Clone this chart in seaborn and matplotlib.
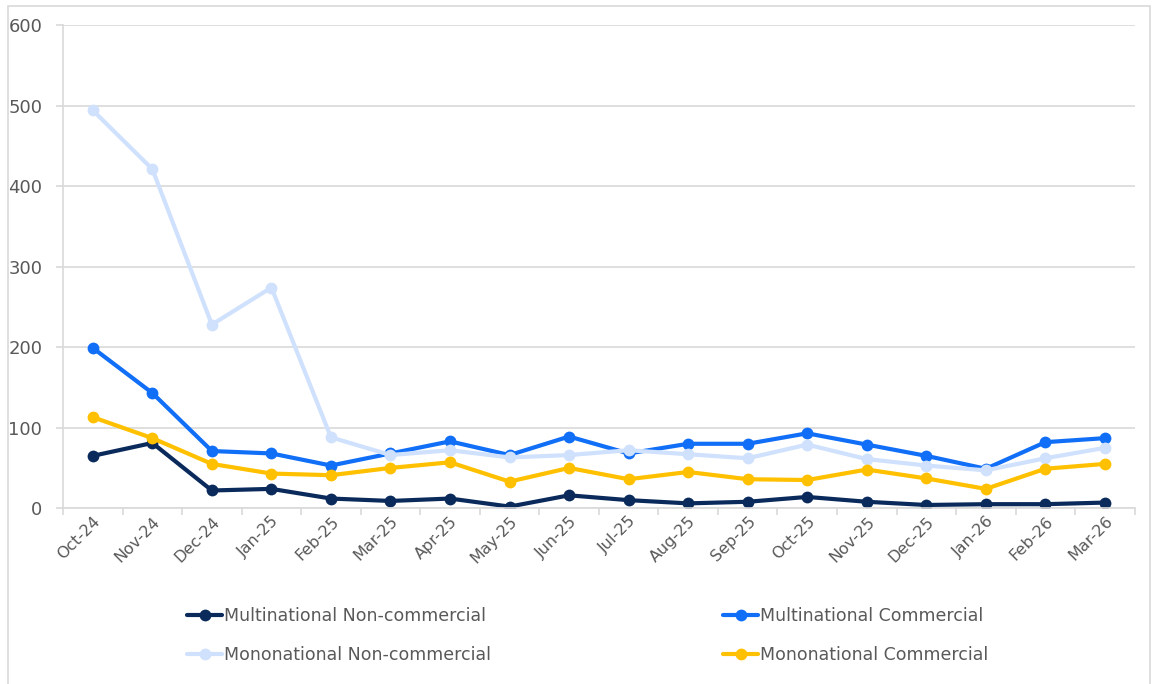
import pandas as pd
import matplotlib.pyplot as plt
import matplotlib.patches as mpatches
from matplotlib.ticker import FixedLocator
import seaborn as sns


# Data

months = ["Oct-24", "Nov-24", "Dec-24", "Jan-25", "Feb-25", "Mar-25", "Apr-25", "May-25", "Jun-25",
          "Jul-25", "Aug-25", "Sep-25", "Oct-25", "Nov-25", "Dec-25", "Jan-26", "Feb-26", "Mar-26"]

multi_noncomm = [65, 81, 22, 24, 12, 9, 12, 2, 16, 10, 6, 8, 14, 8, 4, 5, 5, 7]
multi_comm = [199, 143, 71, 68, 53, 68, 83, 66, 89, 68, 80, 80, 93, 79, 65, 49, 82, 87]
mono_noncomm = [494, 421, 228, 274, 88, 66, 72, 63, 66, 72, 67, 62, 79, 61, 53, 47, 62, 75]
mono_comm = [113, 87, 55, 43, 41, 50, 57, 33, 50, 36, 45, 36, 35, 48, 37, 24, 49, 55]

series_names = ["Multinational Non-commercial", "Multinational Commercial",
                "Mononational Non-commercial", "Mononational Commercial"]
colors = ["#0a2a5c", "#116ff7", "#cfe1fd", "#ffc000"]


# Long format for seaborn

frames = []
for name, vals in zip(series_names, [multi_noncomm, multi_comm, mono_noncomm, mono_comm]):
    frames.append(pd.DataFrame({"Month": months, "Value": vals, "Series": name}))
df = pd.concat(frames, ignore_index=True)


sns.set_style("white")
plt.rcParams["font.family"] = ["DejaVu Sans"]

fig = plt.figure(figsize=(11.59, 6.84), dpi=100)
ax = fig.add_axes([0.0544, 0.257, 0.9246, 0.7065])

sns.lineplot(
    data=df,
    x="Month",
    y="Value",
    hue="Series",
    hue_order=series_names,
    palette=colors,
    marker="o",
    markersize=8.5,
    markeredgewidth=0,
    linewidth=3,
    ax=ax,
)

ax.set_xlim(-0.5, len(months) - 0.5)
ax.set_ylim(0, 600)
ax.set_yticks([0, 100, 200, 300, 400, 500, 600])
ax.grid(axis="y", color="#d9d9d9", linewidth=1.2)
ax.set_axisbelow(True)

ax.set_xlabel("")
ax.set_ylabel("")

for side in ["top", "right"]:
    ax.spines[side].set_visible(False)
for side in ["left", "bottom"]:
    ax.spines[side].set_color("#d9d9d9")
    ax.spines[side].set_linewidth(1.2)

# Excel style: x tick marks between categories, labels centred
ax.xaxis.set_minor_locator(FixedLocator([i - 0.5 for i in range(len(months) + 1)]))
ax.tick_params(axis="x", which="minor", length=5, color="#d9d9d9", width=1.2, direction="out")
ax.tick_params(axis="x", which="major", length=0, labelsize=11.5, labelcolor="#595959", pad=4)
ax.tick_params(axis="y", length=5, color="#d9d9d9", width=1.2, labelsize=13, labelcolor="#595959", pad=10)
ax.tick_params(axis="both", which="both", bottom=True, left=True)

plt.setp(ax.get_xticklabels(), rotation=45, ha="right", rotation_mode="anchor")

# Legend below the chart, filled row by row
handles, labels = ax.get_legend_handles_labels()
ax.get_legend().remove()
order = [0, 2, 1, 3]
fig.legend(
    [handles[i] for i in order], [labels[i] for i in order],
    loc="upper left",
    bbox_to_anchor=(0.148, 0.135),
    ncol=2,
    frameon=False,
    fontsize=12.5,
    labelcolor="#595959",
    handlelength=2.0,
    handletextpad=0.1,
    columnspacing=13.4,
    labelspacing=1.2,
)

# Thin border around the chart area
fig.patches.append(mpatches.Rectangle((0.007, -0.01), 0.985, 1.001, transform=fig.transFigure,
                                      fill=False, edgecolor="#d9d9d9", linewidth=1.2))

plt.savefig("out.png", dpi=100)
